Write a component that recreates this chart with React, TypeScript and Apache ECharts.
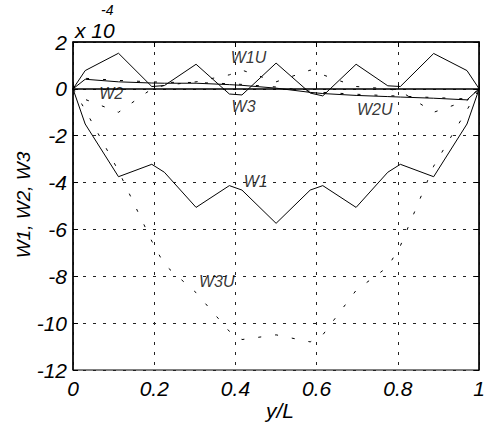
import React, { useEffect, useRef } from "react";
import * as echarts from "echarts";

const xs = [0, 0.03, 0.112, 0.194, 0.225, 0.303, 0.385, 0.416, 0.5, 0.584, 0.615, 0.697, 0.775, 0.806, 0.888, 0.97, 1];
const w1 = [0, -1.5, -3.75, -3.22, -3.56, -5.06, -4.13, -4.32, -5.74, -4.32, -4.13, -5.06, -3.56, -3.22, -3.75, -1.5, 0];
const w1u = [0, 0.78, 1.52, 0.1, 0.14, 1.05, -0.22, -0.26, 1.1, -0.18, -0.3, 1.05, 0.13, 0.1, 1.51, 0.78, 0];
const w2 = [0, -0.45, -1.0, 0.0, 0.15, 0.3, 0.6, 0.8, 0.3, 0.8, 0.6, 0.1, 0.0, -0.1, -1.0, -0.5, 0];
const w2u = [0, 0.45, 0.36, 0.3, 0.28, 0.27, 0.22, 0.19, 0.08, -0.1, -0.15, -0.23, -0.29, -0.31, -0.37, -0.43, 0];
const w3 = [0, 0.41, 0.3, 0.25, 0.24, 0.24, 0.18, 0.15, 0.03, -0.15, -0.2, -0.28, -0.33, -0.35, -0.4, -0.47, 0];
const w3u = [0, -0.9, -3.5, -6.5, -7.5, -8.7, -10.35, -10.7, -10.5, -10.8, -10.5, -8.6, -7.6, -6.7, -3.3, -0.9, 0];

const xTicks = [0, 0.2, 0.4, 0.6, 0.8, 1];
const yTicks = [2, 0, -2, -4, -6, -8, -10, -12];

const labelNames = ["W1U", "W2", "W3", "W2U", "W1", "W3U"];
const labelX = [0.432, 0.094, 0.42, 0.743, 0.45, 0.354];
const labelY = [1.32, -0.18, -0.75, -0.9, -3.96, -8.22];

const FONT = "Liberation Sans";

export default function App() {
  const ref = useRef<HTMLDivElement>(null);
  useEffect(() => {
    if (!ref.current) return;
    const chart = echarts.init(ref.current, null, { renderer: "svg" });
    const pts = (ys: number[]) => xs.map((x, i) => [x, ys[i]]);
    const solid = { color: "#000", width: 1, type: "solid" as const };
    const dotted = { color: "#000", width: 1, type: [3, 14] };
    const mk = (name: string, ys: number[], ls: any) => ({
      name,
      type: "line",
      data: pts(ys),
      symbol: "none",
      lineStyle: ls,
      silent: true,
      z: 3,
    });
    const tickLabel = {
      color: "#000",
      fontSize: 21,
      fontStyle: "italic",
      fontFamily: FONT,
    };
    const txt = (text: string, x: number, y: number, size: number, align: string, rot = 0) => ({
      type: "text",
      x,
      y,
      rotation: rot,
      style: {
        text,
        fill: "#000",
        fontSize: size,
        fontStyle: "italic",
        fontFamily: FONT,
        align,
        verticalAlign: "middle",
      },
    });
    chart.setOption({
      animation: false,
      backgroundColor: "#fff",
      grid: { left: 73, right: 2, top: 42, bottom: 55, show: true, borderColor: "#000", borderWidth: 1, backgroundColor: "#fff" },
      xAxis: [
        {
          type: "value",
          min: 0,
          max: 1,
          interval: 0.2,
          axisLine: { show: true, lineStyle: { color: "#000", width: 1.5 } },
          axisTick: { show: true, inside: true, length: 5, lineStyle: { color: "#000" } },
          axisLabel: {
            ...tickLabel,
            margin: 8,
            showMaxLabel: true,
            showMinLabel: true,
            formatter: (v: number) => {
              const t = xTicks.find((k) => Math.abs(k - v) < 1e-6);
              return t === undefined ? "" : String(t);
            },
          },
          splitLine: { show: true, lineStyle: { color: "#222", width: 1, type: [3, 7] } },
        },
        {
          type: "value",
          position: "top",
          min: 0,
          max: 1,
          interval: 0.2,
          axisLine: { show: true, onZero: false, lineStyle: { color: "#000", width: 1.5 } },
          axisTick: { show: true, inside: true, length: 5, lineStyle: { color: "#000" } },
          axisLabel: { show: false },
          splitLine: { show: false },
        },
      ],
      yAxis: [
        {
          type: "value",
          min: -12,
          max: 2,
          interval: 2,
          name: "-4",
          nameLocation: "end",
          nameGap: 32,
          nameTextStyle: {
            color: "#000",
            fontSize: 14,
            fontStyle: "italic",
            fontFamily: FONT,
            align: "left",
            verticalAlign: "middle",
            padding: [0, 0, 0, 28],
          },
          axisLine: { show: true, onZero: false, lineStyle: { color: "#000", width: 1.5 } },
          axisTick: { show: true, inside: true, length: 5, lineStyle: { color: "#000" } },
          axisLabel: {
            ...tickLabel,
            margin: 6,
            formatter: (v: number) => {
              const t = yTicks.find((k) => Math.abs(k - v) < 1e-6);
              return t === undefined ? "" : String(t);
            },
          },
          splitLine: { show: true, lineStyle: { color: "#222", width: 1, type: [3, 7] } },
        },
        {
          type: "value",
          position: "right",
          min: -12,
          max: 2,
          interval: 2,
          axisLine: { show: true, onZero: false, lineStyle: { color: "#000", width: 1.5 } },
          axisTick: { show: true, inside: true, length: 5, lineStyle: { color: "#000" } },
          axisLabel: { show: false },
          splitLine: { show: false },
        },
      ],
      series: [
        mk("W1", w1, solid),
        mk("W1U", w1u, solid),
        mk("W2", w2, dotted),
        mk("W2U", w2u, dotted),
        mk("W3", w3, solid),
        mk("W3U", w3u, dotted),
        {
          type: "scatter",
          silent: true,
          symbol: "circle",
          symbolSize: 1,
          itemStyle: { color: "rgba(0,0,0,0)" },
          z: 5,
          data: labelNames.map((n, i) => [labelX[i], labelY[i], n]),
          label: {
            show: true,
            position: "inside",
            formatter: (p: any) => p.data[2],
            color: "#000",
            textBorderWidth: 0,
            textBorderColor: "transparent",
            fontSize: 16,
            fontStyle: "italic",
            fontFamily: FONT,
          },
        },
      ],
      graphic: [
        txt("x 10", 75, 30, 21, "left"),
        txt("y/L", 280, 410, 21, "center"),
        txt("W1, W2, W3", 23, 205, 19, "center", Math.PI / 2),
      ],
    });
    return () => chart.dispose();
  }, []);
  return <div ref={ref} style={{ position: "absolute", left: 0, top: 0, width: 488, height: 425 }} />;
}
